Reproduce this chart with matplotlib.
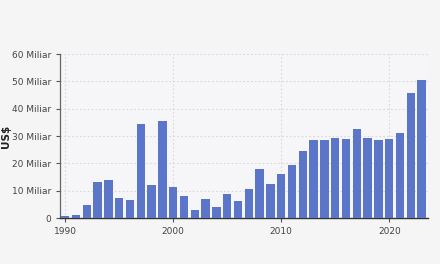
import matplotlib
matplotlib.use("Agg")
import matplotlib.pyplot as plt

years = list(range(1990, 2024))
values = [0.85, 1.2, 4.9, 13.3, 13.9, 7.2, 6.7, 34.3, 12.2, 35.5,
          11.4, 8.2, 3.0, 6.9, 3.9, 8.9, 6.1, 10.5, 17.8, 12.5,
          16.3, 19.4, 24.7, 28.6, 28.6, 29.3, 29.1, 32.5, 29.3, 28.4,
          28.8, 31.0, 45.8, 50.4]
yticks = [0, 10, 20, 30, 40, 50, 60]
ytick_labels = ["0"] + [f"{v} Miliar" for v in yticks[1:]]
xticks = [1990, 2000, 2010, 2020]

fig = plt.figure(figsize=(4.4, 2.64), dpi=100)
fig.patch.set_facecolor("#f5f5f6")
ax = fig.add_axes([0.136, 0.174, 0.837, 0.621])
ax.set_facecolor("#f6f6f8")

ax.bar(years, values, width=0.78, color="#5b76c9", zorder=3)

ax.set_xlim(1989.5, 2023.6)
ax.set_ylim(0, 60)
ax.set_yticks(yticks)
ax.set_yticklabels(ytick_labels)
ax.set_xticks(xticks)

ax.grid(True, color="#d8d8d8", linestyle=(0, (1.5, 2)), linewidth=0.8, zorder=0)
for s in ["top", "right"]:
    ax.spines[s].set_visible(False)
ax.spines["left"].set_color("#666666")
ax.spines["bottom"].set_color("#333333")
ax.spines["left"].set_linewidth(0.9)
ax.spines["bottom"].set_linewidth(1.0)
ax.tick_params(axis="both", labelsize=6.5, labelcolor="#444444", color="#555555",
               length=3, width=0.8)

fig.text(0.014, 0.485, "US$", rotation=90, fontsize=7.5, fontweight="bold",
         color="#222222", ha="center", va="center")

fig.savefig("out.png", dpi=100, facecolor=fig.get_facecolor())
